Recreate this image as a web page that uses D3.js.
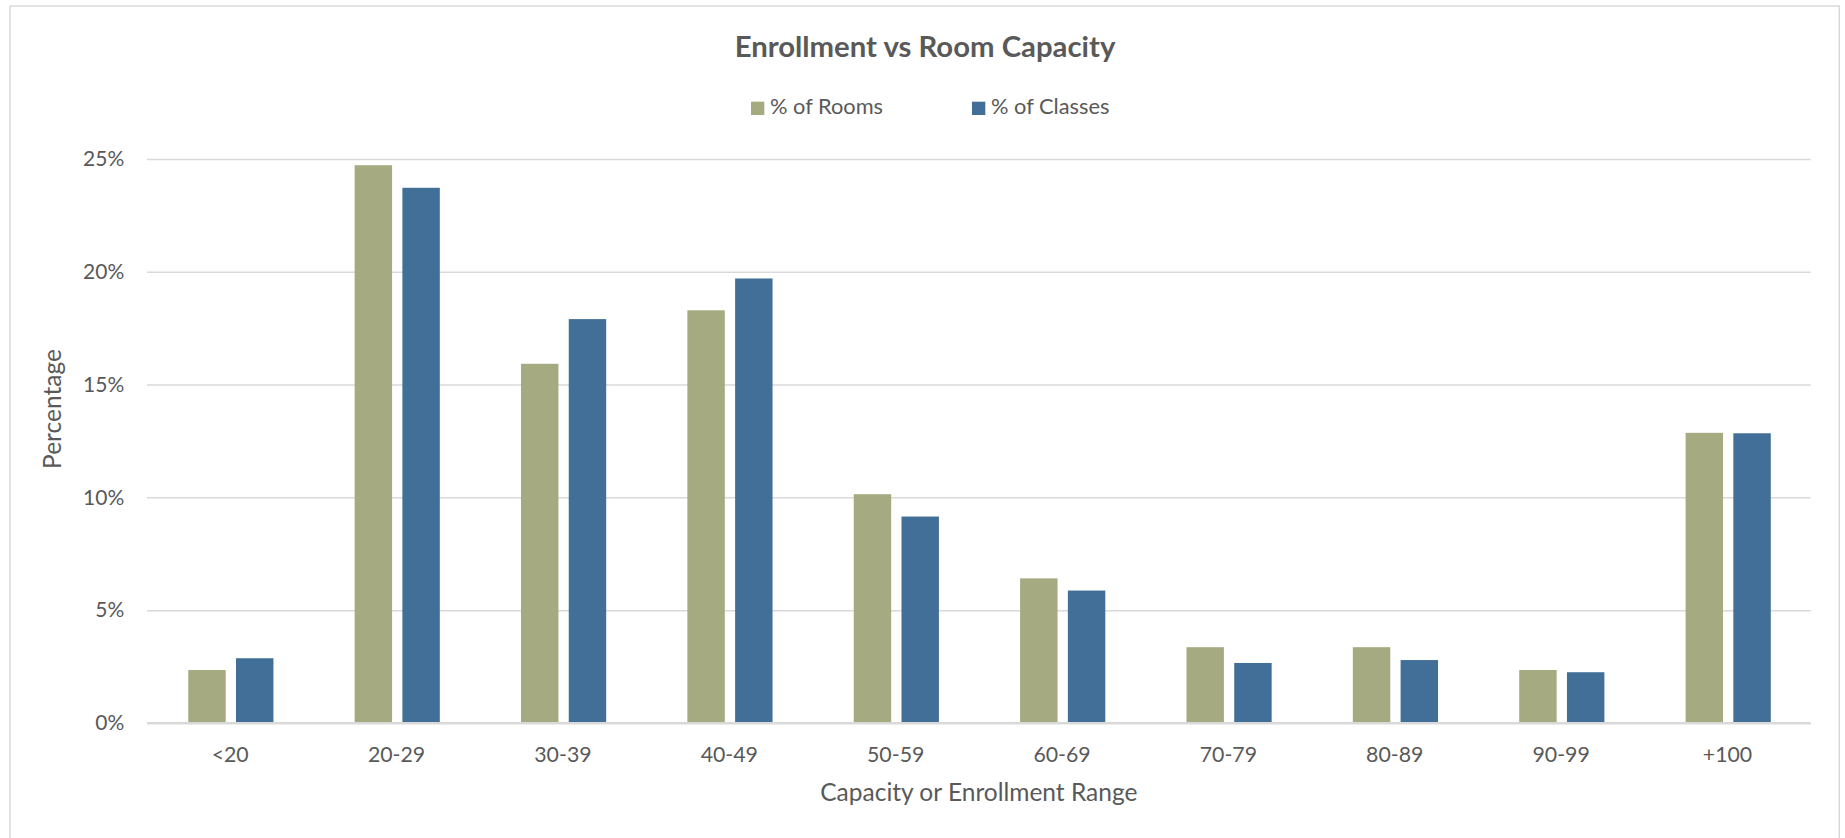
<!DOCTYPE html>
<html>
<head>
<meta charset="utf-8">
<script src="https://cdn.jsdelivr.net/npm/d3@7"></script>
<style>
  html, body { margin: 0; padding: 0; background: #ffffff; }
  svg { display: block; }
  text { font-family: Lato, "Open Sans", sans-serif; fill: #595959; }
</style>
</head>
<body>
<svg id="chart" width="1845" height="838"></svg>
<script>
// ---- data ----
const categories = ["<20", "20-29", "30-39", "40-49", "50-59", "60-69", "70-79", "80-89", "90-99", "+100"];
const seriesNames = ["% of Rooms", "% of Classes"];
const roomsPct   = [2.35, 24.72, 15.92, 18.29, 10.14, 6.41, 3.36, 3.36, 2.35, 12.86];
const classesPct = [2.87, 23.72, 17.90, 19.70, 9.15, 5.87, 2.66, 2.79, 2.25, 12.84];
const yTickValues = [0, 5, 10, 15, 20, 25];
const chartTitle = "Enrollment vs Room Capacity";
const xAxisTitle = "Capacity or Enrollment Range";
const yAxisTitle = "Percentage";

// ---- layout ----
const W = 1845, H = 838;
const plot = { left: 147, right: 1810.7, top: 158.9, bottom: 723 };
const colors = ["#A5AA80", "#416F97"];

const svg = d3.select("#chart");

// chart border
svg.append("rect")
  .attr("x", 10).attr("y", 6)
  .attr("width", 1829.3).attr("height", H)
  .attr("fill", "#ffffff")
  .attr("stroke", "#D9D9D9").attr("stroke-width", 1.5);

const x = d3.scaleBand().domain(categories).range([plot.left, plot.right]).paddingInner(0).paddingOuter(0);
const bw = x.bandwidth();
const x1 = d3.scaleBand().domain(seriesNames)
  .range([bw * 0.248, bw * 0.760]).paddingInner(0.216).paddingOuter(0);
const y = d3.scaleLinear().domain([0, 25]).range([plot.bottom, plot.top]);

// y axis + gridlines
const yAxis = d3.axisLeft(y)
  .tickValues(yTickValues)
  .tickSize(-(plot.right - plot.left))
  .tickPadding(22.7)
  .tickFormat(d => d + "%");
const gy = svg.append("g").attr("transform", `translate(${plot.left},0)`).call(yAxis);
gy.select(".domain").remove();
gy.selectAll(".tick line")
  .attr("stroke", "#D9D9D9")
  .attr("stroke-width", d => d === 0 ? 2 : 1.5);
gy.selectAll(".tick text")
  .style("font-family", "Lato, sans-serif")
  .style("font-size", "21px")
  .attr("fill", "#595959");

// bars
const rows = categories.map((c, i) => ({ cat: c, vals: [roomsPct[i], classesPct[i]] }));
const groups = svg.append("g").selectAll("g")
  .data(rows).join("g")
  .attr("transform", d => `translate(${x(d.cat)},0)`);
groups.selectAll("rect")
  .data(d => d.vals.map((v, k) => ({ name: seriesNames[k], v, k })))
  .join("rect")
  .attr("x", d => x1(d.name))
  .attr("width", x1.bandwidth())
  .attr("y", d => y(d.v))
  .attr("height", d => y(0) - y(d.v))
  .attr("fill", d => colors[d.k]);

// redraw baseline over bars
svg.append("line")
  .attr("x1", plot.left).attr("x2", plot.right)
  .attr("y1", y(0)).attr("y2", y(0))
  .attr("stroke", "#D9D9D9").attr("stroke-width", 2);

// x axis
const xAxis = d3.axisBottom(x).tickSize(0);
const gx = svg.append("g").attr("transform", `translate(0,${plot.bottom})`).call(xAxis);
gx.select(".domain").remove();
gx.selectAll(".tick text")
  .attr("y", 38.7).attr("dy", 0)
  .style("font-family", "Lato, sans-serif")
  .style("font-size", "21.3px")
  .attr("fill", "#595959");

// title
svg.append("text")
  .attr("x", 925).attr("y", 56.7)
  .attr("text-anchor", "middle")
  .style("font-size", "29.3px").style("font-weight", "bold")
  .text(chartTitle);

// legend
const legendX = [751, 972];
const lg = svg.append("g");
seriesNames.forEach((name, k) => {
  lg.append("rect")
    .attr("x", legendX[k]).attr("y", 101.7)
    .attr("width", 13.3).attr("height", 13.3)
    .attr("fill", colors[k]);
  lg.append("text")
    .attr("x", legendX[k] + 19).attr("y", 114.3)
    .style("font-size", "21.8px")
    .text(name);
});

// axis titles
svg.append("text")
  .attr("x", (plot.left + plot.right) / 2).attr("y", 800.7)
  .attr("text-anchor", "middle")
  .style("font-size", "24.5px")
  .text(xAxisTitle);

svg.append("text")
  .attr("transform", "translate(60.5,409) rotate(-90)")
  .attr("text-anchor", "middle")
  .style("font-size", "24.5px")
  .text(yAxisTitle);
</script>
</body>
</html>
